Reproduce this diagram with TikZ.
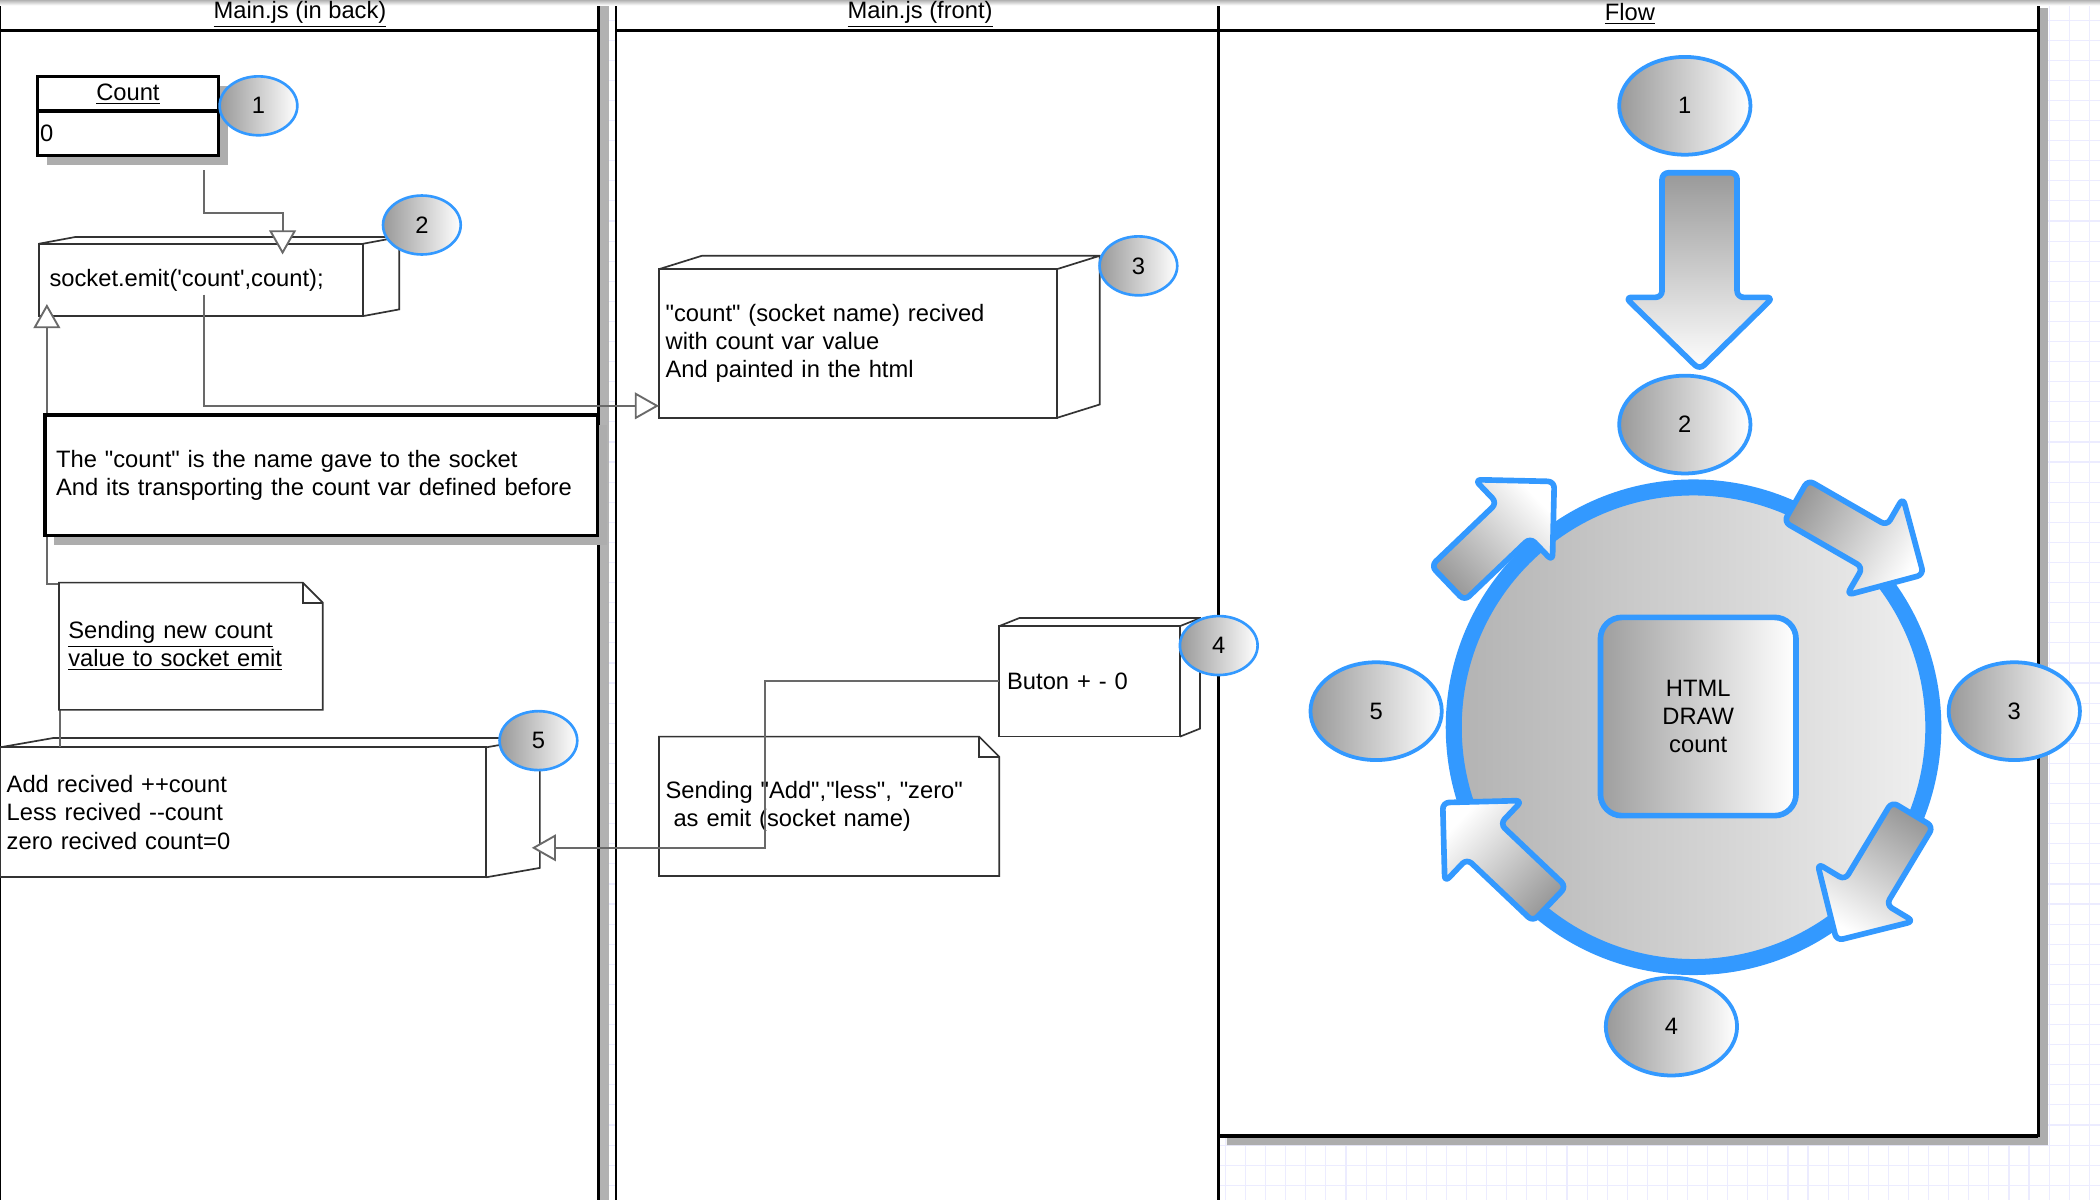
\documentclass[tikz,border=0pt]{standalone}
\usepackage{fontspec}
\setmainfont{Liberation Sans}
\usepackage{tikz}
\usetikzlibrary{calc, shapes, shadows, arrows.meta}
\definecolor{badgeblue}{RGB}{51,153,255}
\definecolor{linegray}{RGB}{105,105,105}
\definecolor{gridblue}{RGB}{236,236,255}

\begin{document}
\begin{tikzpicture}[x=0.025cm, y=-0.025cm, font=\fontsize{12.6}{15}\selectfont]

    \tikzstyle{lane}=[draw=black, line width=1.4pt, fill=white];
    \tikzstyle{gridline}=[draw=gridblue, line width=0.6pt];
    \tikzstyle{header}=[anchor=base];
    \tikzstyle{textbox}=[rectangle, draw=black!80, line width=0.9pt, fill=white, anchor=north west, outer sep=0pt, inner xsep=0.15cm, inner ysep=0pt, align=left];
    \tikzstyle{thinline}=[draw=black!80, line width=0.9pt];
    \tikzstyle{heavybox}=[rectangle, draw=black, line width=1.8pt, fill=white, anchor=north west, outer sep=0pt, inner ysep=0pt, drop shadow={shadow xshift=0.175cm, shadow yshift=-0.175cm, fill=black!32, opacity=1}];
    \tikzstyle{badge}=[ellipse, draw=badgeblue, line width=1.4pt, left color=black!40, right color=white, inner sep=0pt, minimum width=1.45cm, minimum height=1.1cm];
    \tikzstyle{bigbadge}=[badge, line width=2pt, minimum width=2.45cm, minimum height=1.825cm];
    \tikzstyle{flow}=[draw=linegray, line width=1pt, -{Triangle[length=0.45cm, width=0.5cm, fill=white]}];
    \tikzstyle{blockarrow}=[draw=badgeblue, line width=3pt, rounded corners=0.12cm, line join=round];

    \useasboundingbox (0,0) rectangle (1568,896);
    \clip (0,0) rectangle (1568,896);

    \foreach \gx in {0,15,...,1568} \draw[gridline] (\gx,0) -- (\gx,896);
    \foreach \gy in {0,15,...,896} \draw[gridline] (0,\gy) -- (1568,\gy);

    \fill[black!30] (448,0) rectangle (455,896);
    \draw[lane] (0,-10) rectangle (447,910);
    \draw[lane] (460,-10) rectangle (910,910);
    \fill[black!32] (1522,6) rectangle (1529,855) (916,848) rectangle (1529,855);
    \draw[lane] (910,-10) rectangle (1522,848);
    \draw[line width=2.2pt] (910,848) -- (1522,848);
    \draw[line width=1.4pt] (0,23) -- (447,23) (460,23) -- (1522,23);
    \shade[top color=black!30, bottom color=white] (0,0) rectangle (1568,4);

    \node[header] (hdrback) at (224,14) {\underline{Main.js (in back)}};
    \node[header] (hdrfront) at (687,14) {\underline{Main.js (front)}};
    \node[header] (hdrflow) at (1217,15) {\underline{Flow}};

    \node[heavybox, inner xsep=0pt, minimum width=3.375cm, minimum height=0.65cm] (counthead) at (28,57) {\underline{Count}};
    \node[heavybox, inner xsep=0.05cm, text width=3.275cm, align=left, minimum height=0.825cm] (countval) at (counthead.south west) {0};

    \node[textbox, text width=5.65cm, inner xsep=0.2cm, minimum height=1.35cm] (emit) at (29,182) {socket.emit(\textquotesingle count\textquotesingle,count);};
    \draw[thinline] (emit.north west) -- ++(27,-5) -- ($(emit.north east)+(27,-5)$) -- ($(emit.south east)+(27,-5)$) -- (emit.south east) (emit.north east) -- ++(27,-5);

    \node[textbox, text width=8.825cm, inner xsep=0.125cm, minimum height=2.425cm] (add) at (0,558) {Add recived ++count\\Less recived -{}-count\\zero recived count=0};
    \draw[thinline] (add.north west) -- ++(40,-7) -- ($(add.north east)+(40,-7)$) -- ($(add.south east)+(40,-7)$) -- (add.south east) (add.north east) -- ++(40,-7);

    \node[textbox, text width=7.175cm, inner xsep=0.125cm, minimum height=2.775cm] (recv) at (492,201) {\textquotedbl count\textquotedbl{} (socket name) recived\\with count var value\\And painted in the html};
    \draw[thinline] (recv.north west) -- ++(32,-10) -- ($(recv.north east)+(32,-10)$) -- ($(recv.south east)+(32,-10)$) -- (recv.south east) (recv.north east) -- ++(32,-10);

    \node[textbox, text width=3.075cm, minimum height=2.0625cm] (buton) at (746,467.5) {Buton + - 0};
    \draw[thinline] (buton.north west) -- ++(15,-6) -- ($(buton.north east)+(15,-6)$) -- ($(buton.south east)+(15,-6)$) -- (buton.south east) (buton.north east) -- ++(15,-6);

    \node[textbox, draw=none, text width=6.1cm, inner xsep=0.125cm, minimum height=2.6cm] (emitnote) at (492,550) {Sending \textquotedbl Add\textquotedbl,\textquotedbl less\textquotedbl, \textquotedbl zero\textquotedbl\\\ as emit (socket name)};
    \draw[thinline] (emitnote.north west) -- ($(emitnote.north east)+(-15,0)$) -- ($(emitnote.north east)+(0,15)$) -- (emitnote.south east) -- (emitnote.south west) -- cycle;
    \draw[thinline] ($(emitnote.north east)+(-15,0)$) -- ++(0,15) -- ($(emitnote.north east)+(0,15)$);

    \draw[flow] ($(countval.south west)+(124,11)$) -- ++(0,32) -| ($(emit.north west)+(182,8)$);
    \draw[flow] ($(emit.south west)+(123,-16)$) |- ($(recv.south west)+(0,-9)$);
    \draw[flow] ($(add.north west)+(45,0)$) -- ++(0,-122) -| ($(emit.south west)+(6,-9)$);
    \draw[flow] (buton.west) -- ++(-175,0) |- ($(add.south east)+(34,-22)$);

    \node[heavybox, text width=9.89cm, inner xsep=0.21cm, align=left, minimum height=2.25cm] (namebox) at (33.5,310) {The \textquotedbl count\textquotedbl{} is the name gave to the socket\\And its transporting the count var defined before};

    \node[textbox, draw=none, text width=4.575cm, inner xsep=0.175cm, minimum height=2.375cm] (sendnote) at (44,435) {\underline{Sending new count}\\\underline{value to socket emit}};
    \draw[thinline] (sendnote.north west) -- ($(sendnote.north east)+(-15,0)$) -- ($(sendnote.north east)+(0,15)$) -- (sendnote.south east) -- (sendnote.south west) -- cycle;
    \draw[thinline] ($(sendnote.north east)+(-15,0)$) -- ++(0,15) -- ($(sendnote.north east)+(0,15)$);

    \node[badge] (b1) at (193,79) {1};
    \node[badge] (b2) at (315,168) {2};
    \node[badge] (b3) at (850,198.5) {3};
    \node[badge] (b4) at (910,482) {4};
    \node[badge] (b5) at (402,553) {5};

    \node[circle, draw=badgeblue, line width=8.5pt, left color=black!30, right color=black!6, minimum size=8.95cm, inner sep=0pt] (wheel) at (1264.5,543) {};
    \node[draw=badgeblue, line width=3pt, rounded corners=0.4cm, left color=black!38, right color=white, minimum width=3.65cm, minimum height=3.7cm, align=center] (htmlbox) at (1268,535) {HTML\\DRAW\\count};

    \draw[blockarrow, left color=black!40, right color=white, shading angle=133.7, shift={(1081,435.5)}, rotate=43.7] (0,-18) -- (68,-18) -- (68,-42) -- (110,0) -- (68,42) -- (68,18) -- (0,18) -- cycle;
    \draw[blockarrow, left color=black!40, right color=white, shading angle=60, shift={(1341,374)}, rotate=-30] (0,-18) -- (68,-18) -- (68,-42) -- (110,0) -- (68,42) -- (68,18) -- (0,18) -- cycle;
    \draw[blockarrow, left color=black!40, right color=white, shading angle=-31, shift={(1428,608)}, rotate=-121] (0,-18) -- (68,-18) -- (68,-42) -- (110,0) -- (68,42) -- (68,18) -- (0,18) -- cycle;
    \draw[blockarrow, left color=black!40, right color=white, shading angle=226.5, shift={(1157,675)}, rotate=136.5] (0,-18) -- (68,-18) -- (68,-42) -- (110,0) -- (68,42) -- (68,18) -- (0,18) -- cycle;
    \draw[blockarrow, top color=black!40, bottom color=white] (1241,129) -- (1297,129) -- (1297,222) -- (1324,222) -- (1269,276) -- (1213.5,222) -- (1241,222) -- cycle;

    \node[bigbadge] (f1) at (1258,79) {1};
    \node[bigbadge] (f2) at (1258,317) {2};
    \node[bigbadge] (f3) at (1504,531) {3};
    \node[bigbadge] (f4) at (1248,766.5) {4};
    \node[bigbadge] (f5) at (1027.5,531) {5};

\end{tikzpicture}
\end{document}
